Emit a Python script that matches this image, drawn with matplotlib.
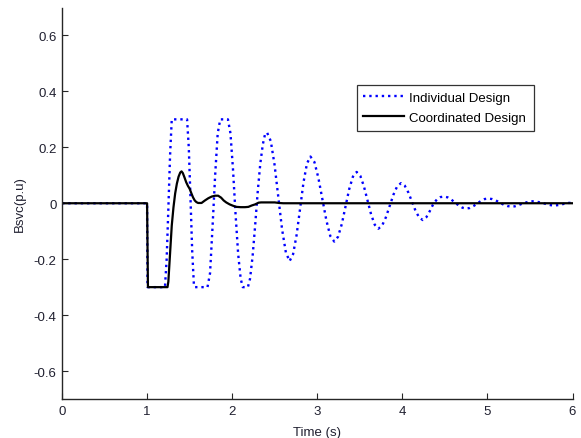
import matplotlib
matplotlib.use("Agg")
import matplotlib.pyplot as plt
from matplotlib.ticker import FuncFormatter

# ---------------- data ----------------
t_individual = [0.0, 1.0, 1.005, 1.21, 1.23, 1.25, 1.27, 1.29, 1.47, 1.49, 1.51, 1.53, 1.55, 1.56,
                1.71, 1.74, 1.77, 1.80, 1.83, 1.86, 1.95, 1.98, 2.01, 2.04, 2.07, 2.10, 2.125,
                2.185, 2.21, 2.24, 2.27, 2.30, 2.33, 2.36, 2.385, 2.41,
                2.454, 2.498, 2.542, 2.586, 2.631, 2.675,
                2.716, 2.757, 2.798, 2.838, 2.879, 2.92,
                2.967, 3.013, 3.06, 3.107, 3.153, 3.20,
                3.244, 3.288, 3.332, 3.375, 3.419, 3.463,
                3.506, 3.548, 3.591, 3.633, 3.676, 3.718,
                3.762, 3.807, 3.851, 3.896, 3.940, 3.985,
                4.028, 4.07, 4.113, 4.155, 4.198, 4.24,
                4.282, 4.323, 4.365, 4.407, 4.448, 4.49,
                4.533, 4.577, 4.62, 4.663, 4.707, 4.75,
                4.793, 4.837, 4.88, 4.923, 4.967, 5.01,
                5.055, 5.10, 5.145, 5.19, 5.235, 5.28,
                5.322, 5.363, 5.405, 5.447, 5.488, 5.53,
                5.573, 5.617, 5.66, 5.703, 5.747, 5.79,
                5.85, 5.90, 5.95, 6.0]
y_individual = [0.0, 0.0, -0.30, -0.30, -0.20, -0.02, 0.17, 0.30, 0.30, 0.20, 0.02, -0.17, -0.29, -0.30,
                -0.30, -0.25, -0.08, 0.10, 0.25, 0.30, 0.30, 0.25, 0.12, -0.04, -0.18, -0.27, -0.30,
                -0.30, -0.27, -0.19, -0.08, 0.04, 0.14, 0.21, 0.245, 0.253,
                0.222, 0.138, 0.023, -0.092, -0.176, -0.207,
                -0.182, -0.114, -0.020, 0.074, 0.142, 0.167,
                0.147, 0.091, 0.015, -0.061, -0.117, -0.137,
                -0.120, -0.075, -0.012, 0.050, 0.095, 0.112,
                0.098, 0.061, 0.010, -0.040, -0.077, -0.091,
                -0.080, -0.050, -0.010, 0.031, 0.061, 0.072,
                0.063, 0.039, 0.006, -0.027, -0.051, -0.060,
                -0.050, -0.028, -0.002, 0.014, 0.022, 0.024,
                0.021, 0.013, 0.002, -0.008, -0.016, -0.019,
                -0.017, -0.010, -0.001, 0.008, 0.015, 0.017,
                0.015, 0.010, 0.002, -0.005, -0.010, -0.012,
                -0.011, -0.007, -0.002, 0.002, 0.006, 0.007,
                0.006, 0.003, 0.000, -0.004, -0.007, -0.008,
                -0.006, -0.002, 0.001, 0.002]

t_coordinated = [0.0, 1.0, 1.01, 1.24, 1.25, 1.27, 1.29, 1.31, 1.33, 1.35, 1.37, 1.39, 1.405,
                 1.42, 1.44, 1.46, 1.48, 1.50, 1.52, 1.54, 1.56, 1.58, 1.60, 1.64, 1.68, 1.72,
                 1.76, 1.80, 1.835, 1.87, 1.90, 1.93, 1.97, 2.01, 2.05, 2.10, 2.15, 2.19, 2.23,
                 2.27, 2.31, 2.34, 2.50, 2.55, 2.60, 6.0]
y_coordinated = [0.0, 0.0, -0.30, -0.30, -0.28, -0.18, -0.08, -0.015, 0.035, 0.07, 0.095, 0.11, 0.114,
                 0.108, 0.092, 0.075, 0.062, 0.052, 0.036, 0.021, 0.010, 0.004, 0.001, 0.001, 0.010, 0.018,
                 0.024, 0.027, 0.027, 0.020, 0.010, 0.003, -0.004, -0.009, -0.013, -0.014, -0.014, -0.013, -0.008,
                 -0.004, 0.002, 0.003, 0.003, 0.001, 0.0, 0.0]

series_labels = ["Individual Design", "Coordinated Design"]
x_ticks = [0, 1, 2, 3, 4, 5, 6]
y_ticks = [-0.6, -0.4, -0.2, 0, 0.2, 0.4, 0.6]
x_label = "Time (s)"
y_label = "Bsvc(p.u)"

# ---------------- figure ----------------
plt.rcParams["font.family"] = ["Liberation Sans", "DejaVu Sans"]
fig = plt.figure(figsize=(5.81, 4.39), dpi=100)
ax = fig.add_axes([62 / 581, 39 / 439, 510.5 / 581, 391.5 / 439])

ax.plot(t_individual, y_individual, color="#0000ff", linestyle=":", linewidth=1.7,
        label=series_labels[0])
ax.plot(t_coordinated, y_coordinated, color="black", linestyle="-", linewidth=1.6,
        label=series_labels[1])

ax.set_xlim(0, 6)
ax.set_ylim(-0.7, 0.7)
ax.set_xticks(x_ticks)
ax.set_yticks(y_ticks)
ax.yaxis.set_major_formatter(FuncFormatter(lambda v, p: "0" if abs(v) < 1e-9 else f"{v:g}"))

for s in ["top", "right"]:
    ax.spines[s].set_visible(False)
for s in ["left", "bottom"]:
    ax.spines[s].set_color("#262626")
    ax.spines[s].set_linewidth(1.0)

ax.tick_params(direction="in", length=4, width=0.8, colors="#262626",
               labelsize=9.5, labelcolor="#202030", pad=4)

ax.set_xlabel(x_label, fontsize=9.5, color="#202030", labelpad=6.5)
ax.set_ylabel(y_label, fontsize=9.5, color="#202030", labelpad=5.5)

leg = ax.legend(loc="upper left", bbox_to_anchor=(0.577, 0.688, 0.347, 0.114),
                mode="expand", borderaxespad=0, fontsize=9.5, handlelength=3.1,
                handletextpad=0.4, borderpad=0.5, labelspacing=0.6,
                fancybox=False, frameon=True)
leg.get_frame().set_edgecolor("black")
leg.get_frame().set_linewidth(0.9)

fig.savefig("out.png", dpi=100)
